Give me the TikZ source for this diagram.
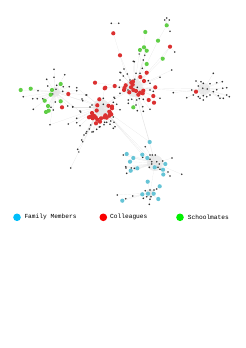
\documentclass[tikz,border=0pt]{standalone}
\usepackage{fontspec}
\newfontfamily\legfont{Liberation Mono}
\definecolor{nred}{RGB}{219,48,48}
\definecolor{ngreen}{RGB}{96,206,70}
\definecolor{ncyan}{RGB}{102,196,214}
\definecolor{lcyan}{RGB}{0,190,250}
\definecolor{lred}{RGB}{250,0,0}
\definecolor{lgreen}{RGB}{0,240,0}
\definecolor{ndark}{RGB}{50,50,50}
\tikzset{
  edge/.style={draw=gray!20,line width=0.15pt},
  bdot/.style={circle,fill=ndark,inner sep=0pt,minimum size=1.8pt},
  rdot/.style={circle,fill=nred,inner sep=0pt,minimum size=4.2pt},
  gdot/.style={circle,fill=ngreen,inner sep=0pt,minimum size=4.2pt},
  cdot/.style={circle,fill=ncyan,inner sep=0pt,minimum size=4.2pt},
  blob/.style={fill=gray!25,opacity=0.6},
  legdot/.style={circle,inner sep=0pt,minimum size=7.6pt},
  legtext/.style={anchor=west,inner sep=0pt,font=\legfont\fontsize{6.2}{7}\selectfont}
}
\newcommand\myhubedges[2]{\foreach \x/\y in #2 {\draw[edge] (#1) -- (\x,\y);}}
\newcommand\mydots[2]{\foreach \x/\y in #2 {\node[#1] at (\x,\y) {};}}
\begin{document}
\begin{tikzpicture}[x=1pt,y=-1pt]
\useasboundingbox (0,0) rectangle (246,348);
% hubs
\coordinate (hL) at (55,92);
\coordinate (hC) at (101,107);
\coordinate (hT) at (134,88);
\coordinate (hR) at (204,89);
\coordinate (hB) at (155,163);
\coordinate (hD) at (150,193);
% hub blobs
\fill[blob] (hC) circle (8);
\fill[blob] (hT) circle (9);
\fill[blob] (hR) circle (6);
\fill[blob] (hB) circle (8);
\fill[blob] (hD) circle (4);
\fill[blob] (hL) circle (5);
% lists
\def\Lg{20.7/90, 30.7/88.7, 60.7/84, 52/90, 50.7/94.7, 44.7/100.7, 60.7/101.3, 48/106, 46/112, 48.7/110.7}
\def\Lr{68.3/94, 62/107.3}
\def\Lb{54/69.3, 64.7/74.7, 54/77.3, 46.7/79.3, 47.7/86, 56.7/85.3, 63.3/86.7, 69.3/86.7, 62.7/91.3, 56/89.3, 38/90.7, 52.7/94, 23.3/96.7, 32.7/98.7, 37.3/98.7, 42.7/98.7, 55.3/102, 51/107.3, 67.7/106, 72.7/106.7, 33.3/109.3, 53.3/110, 80.7/112, 76.7/90.7, 82.7/100.7, 86.7/95}
\def\Cr{104.7/88.3, 99.3/99.3, 97.3/105.3, 108.5/105.8, 112/106.5, 96.7/110.5, 110/112.7, 94/115.7, 89/117.3, 95.7/117.3, 97.3/119.7, 101/118.3, 104.3/117.3, 106.7/117.7, 109.3/115.7, 111.3/114.3, 112/108.3, 100/121.7, 96/123.3, 92.7/118.3, 92/113, 109.3/111.7, 90.5/116.7, 105.3/115.3}
\def\Cb{76.7/87.7, 86/95, 82/99, 72.7/107, 80/111, 90/107, 92/105, 103.3/104.3, 103.3/98.3, 114.7/98.3, 113.3/102.3, 116.7/104.3, 120/109.7, 113.3/117, 110.7/121, 114/122.3, 106.7/122.3, 110/124.3, 104.7/122.3, 90.7/125, 89.3/129, 86.7/131.7, 93.3/131.7, 99.3/127, 113.3/128.3, 76.7/118.3, 80/125.7, 68.3/124, 76.7/122.7, 86/133.3, 92/132, 96.7/129.3, 100/126.7, 115/126.7, 104/124.7}
\def\Tr{120/55.3, 146.7/72.7, 140.3/77, 144/81, 155.3/87.3, 105.3/87.7, 114.7/86, 95/82.7, 125.7/85.3, 124.5/88, 124/90, 131.3/82.7, 133/81.5, 132.7/84.7, 131/87.3, 133.3/90, 129.3/92.3, 136/91, 140/92.7, 142.7/93.3, 143.3/90.7, 138.3/94.7, 153.3/96, 154/102.7, 148.7/100}
\def\Tg{133.3/107.3, 146.7/64}
\def\Tb{134.3/61.7, 143.3/60, 142.3/68.3, 136/73.3, 140/73.3, 127.3/74, 120.7/72.7, 123.3/76, 120/80, 130/80, 134.7/79.3, 148.3/80.7, 150/83.3, 160/77.3, 171.7/70, 114/97.3, 119.3/87.3, 120/93.3, 128.3/100, 131.7/99.3, 136.7/100, 139.3/98.7, 143.3/99.3, 128.3/103.3, 136/105, 142.7/106.7, 150/90, 153.3/91.3, 143.3/111.3, 137.3/110.7, 150/109.3, 160/98.3, 128/90, 137.3/87.3, 133.3/61.3, 124/69, 120/72.3}
\def\Rb{213.3/73.3, 196/81, 201/81.7, 203.3/83.3, 210/83.7, 216.7/82.7, 222.3/81.7, 198.3/86, 202.7/88.3, 207.3/89, 213.3/91.7, 216.7/89.7, 222.7/88.3, 226.7/87.7, 191.7/90, 193.3/95, 198.3/96.7, 203.3/95.7, 206.7/96.7, 210/95, 218.3/95.7, 220/98.3, 223.3/98.3, 226.7/95, 229.3/96.7, 203.3/100, 200/98.3, 186.7/97.7, 173.3/92.7}
\def\Bc{149.7/142, 126.7/154, 133.3/158, 130/161.7, 142.3/154.7, 147.3/158, 137.3/168.3, 130.7/170.7, 154.7/167.3, 165.3/164, 163/169.7, 163.3/174.5}
\def\Bb{145.3/146.7, 150/155, 152.3/155, 155.3/155, 142.7/157.3, 172/158, 150/159.3, 151.7/161.7, 156.7/161.7, 151.7/164, 159.3/164, 162.7/161, 149.3/167.3, 158/167.3, 160/169.3, 123.3/155, 125.7/166.7, 131.3/168, 126/168, 126.7/173.3, 134.3/168.3, 181.7/174.3, 168/172, 170/176}
\def\Dc{147.7/181.7, 159.7/186.3, 142.3/194.3, 148/193.7, 153.7/193.7, 158.3/199, 122.3/200.7}
\def\Db{156.7/189, 150/190, 154/190, 145.3/190.7, 146.7/196.7, 151/196.7, 143.3/198.3, 150/199.3, 117.3/195, 132.7/196, 149.3/204.3, 125.7/198.7}
% edges to hubs
\myhubedges{hL}{\Lg}\myhubedges{hL}{\Lr}\myhubedges{hL}{\Lb}
\myhubedges{hC}{\Cr}\myhubedges{hC}{\Cb}
\myhubedges{hT}{\Tr}\myhubedges{hT}{\Tg}\myhubedges{hT}{\Tb}
\myhubedges{hR}{\Rb}
\myhubedges{hB}{\Bc}\myhubedges{hB}{\Bb}
\myhubedges{hD}{\Dc}\myhubedges{hD}{\Db}
% named outlying nodes
\node[rdot] (r1) at (113.3,33.3) {};
\node[rdot] (r2) at (170,46.7) {};
\node[gdot] (g1) at (145.3,32) {};
\node[gdot] (g2) at (166.7,25.3) {};
\node[gdot] (g3) at (158,40.7) {};
\node[gdot] (g4) at (144,47.3) {};
\node[gdot] (g5) at (140,50) {};
\node[gdot] (g6) at (146.7,50.7) {};
\node[gdot] (g7) at (162.7,58.7) {};
\node[bdot] (k1) at (111.3,23.3) {};
\node[bdot] (k2) at (118.7,23.3) {};
\node[bdot] (k3) at (164.7,20) {};
\node[bdot] (k4) at (166.7,18) {};
\node[bdot] (k5) at (169.3,20) {};
\node[bdot] (k6) at (170,31.3) {};
\node[bdot] (k7) at (174.7,52) {};
\node[bdot] (k8) at (139.3,54) {};
\node[bdot] (k9) at (144.7,55.3) {};
\node[bdot] (k10) at (84,135) {};
\node[bdot] (k11) at (81.7,140) {};
\node[bdot] (k12) at (82.7,141.7) {};
\node[bdot] (k13) at (77.7,149.3) {};
\node[bdot] (k14) at (78.7,152) {};
\node[bdot] (k15) at (70.7,168) {};
\node[bdot] (k16) at (50,124.7) {};
\node[rdot] (rR) at (196,91.7) {};
\coordinate (t55) at (120,55.3);
\coordinate (t69) at (124,69);
\coordinate (t68) at (142.3,68.3);
\coordinate (t64) at (146.7,64);
\coordinate (c142) at (149.7,142);
\coordinate (c154) at (142.3,154.7);
\coordinate (c158) at (147.3,158);
% explicit edges
\draw[edge] (r1) -- (t55) -- (t69);
\draw[edge] (g1) -- (g4);
\draw[edge] (g2) -- (g3) -- (t64);
\draw[edge] (k3) -- (g2) (k4) -- (g2) (k5) -- (g2) (k6) -- (g2);
\draw[edge] (r2) -- (k7) (r2) -- (g7) (r2) -- (hT);
\draw[edge] (g4) -- (k8) (g5) -- (k8) (g6) -- (k9) (g4) -- (k9) (k8) -- (t68) (k9) -- (t68) (g5) -- (hT) (g6) -- (hT);
\draw[edge] (g7) -- (hT) (k1) -- (k2);
\draw[edge] (hC) -- (k10) -- (k11) (hC) -- (k12) -- (k13) -- (k14) (hC) -- (k15) (hL) -- (k16) (hC) -- (k16);
\draw[edge] (hC) -- (hL) (hC) -- (hT) (hT) -- (rR) (rR) -- (hR) (hT) -- (hR);
\draw[edge] (hC) -- (hB) (hC) -- (c142) (hC) -- (c154) (hT) -- (c142) (hT) -- (hB) (hB) -- (hD) (hC) -- (c158);
% dots
\mydots{bdot}{\Lb}\mydots{bdot}{\Cb}\mydots{bdot}{\Tb}\mydots{bdot}{\Rb}\mydots{bdot}{\Bb}\mydots{bdot}{\Db}
\mydots{rdot}{\Lr}\mydots{rdot}{\Cr}\mydots{rdot}{\Tr}
\mydots{gdot}{\Lg}\mydots{gdot}{\Tg}
\mydots{cdot}{\Bc}\mydots{cdot}{\Dc}
% legend
\node[legdot,fill=lcyan] (lc) at (17,217.3) {};
\node[legtext] (tc) at (24.3,217.3) {Family Members};
\node[legdot,fill=lred] (lr) at (103.3,217.3) {};
\node[legtext] (tr) at (110,217.3) {Colleagues};
\node[legdot,fill=lgreen] (lg) at (180,217.3) {};
\node[legtext] (tg) at (187.7,217.3) {Schoolmates};
\end{tikzpicture}
\end{document}
